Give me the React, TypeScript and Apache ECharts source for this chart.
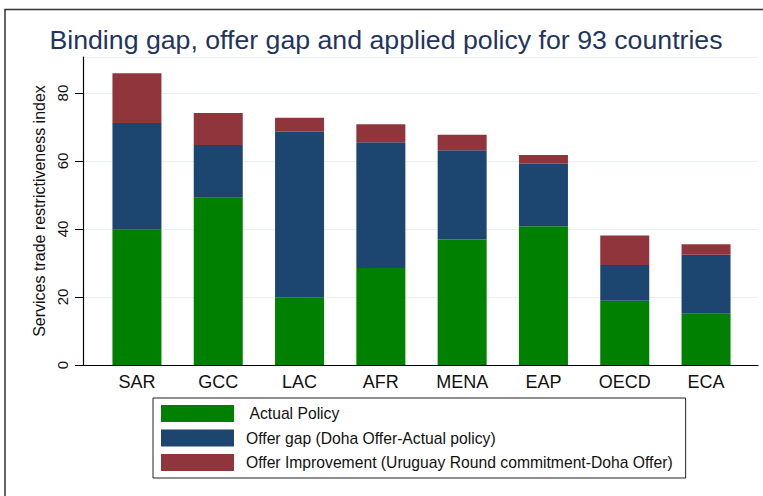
import React, { useEffect, useRef } from "react";
import * as echarts from "echarts";

const categories = ["SAR", "GCC", "LAC", "AFR", "MENA", "EAP", "OECD", "ECA"];
const actualPolicy = [39.8, 49.2, 19.9, 28.5, 36.9, 40.8, 18.9, 15.1];
const offerGap = [31.4, 15.5, 48.7, 37.0, 26.3, 18.4, 10.5, 17.3];
const offerImprovement = [14.6, 9.4, 4.1, 5.3, 4.5, 2.6, 8.7, 3.1];
const yTicks = [0, 20, 40, 60, 80];

const FONT = "'Liberation Sans', Arial, Helvetica, sans-serif";

export default function App() {
  const ref = useRef<HTMLDivElement>(null);
  useEffect(() => {
    if (!ref.current) return;
    const chart = echarts.init(ref.current, null, { renderer: "svg" });
    const yMax = 90.6;
    chart.setOption({
      animation: false,
      backgroundColor: "#ffffff",
      textStyle: { fontFamily: FONT },
      title: {
        text: "Binding gap, offer gap and applied policy for 93 countries",
        left: 386,
        textAlign: "center",
        top: 26,
        padding: 0,
        textStyle: { fontFamily: FONT, fontSize: 26.7, fontWeight: "normal", color: "#1f3560" },
      },
      graphic: [
        {
          type: "rect",
          shape: { x: 5, y: 9.5, width: 800, height: 520 },
          style: { fill: "none", stroke: "#333333", lineWidth: 1.5 },
          silent: true,
        },
      ],
      legend: {
        orient: "vertical",
        left: 153,
        top: 398,
        itemWidth: 73,
        itemHeight: 17,
        itemGap: 7.5,
        padding: [7, 13, 7, 8],
        borderColor: "#222222",
        borderWidth: 1,
        backgroundColor: "#ffffff",
        icon: "rect",
        selectedMode: false,
        formatter: (name: string) => (name === "Actual Policy" ? " " + name : name),
        textStyle: { fontFamily: FONT, fontSize: 15.7, color: "#111111", padding: [0, 0, 0, 7] },
        data: ["Actual Policy", "Offer gap (Doha Offer-Actual policy)", "Offer Improvement (Uruguay Round commitment-Doha Offer)"],
      },
      grid: [
        { left: 83, right: 5, top: 57, bottom: 131 },
        { left: 96.3, width: 650.4, top: 57, bottom: 131 },
      ],
      xAxis: [
        {
          gridIndex: 0,
          type: "value",
          min: 0,
          max: 1,
          axisLine: { show: true, lineStyle: { color: "#000000", width: 1.2 } },
          axisTick: { show: false },
          axisLabel: { show: false },
          splitLine: { show: false },
        },
        {
          gridIndex: 1,
          type: "category",
          data: categories,
          axisLine: { show: false },
          axisTick: { show: false },
          axisLabel: { fontFamily: FONT, fontSize: 18, color: "#111111", margin: 8 },
        },
      ],
      yAxis: [
        {
          gridIndex: 0,
          type: "value",
          min: 0,
          max: yMax,
          interval: 20,
          name: "Services trade restrictiveness index",
          nameLocation: "middle",
          nameGap: 35,
          nameTextStyle: { fontFamily: FONT, fontSize: 16, color: "#111111" },
          axisLine: { show: true, lineStyle: { color: "#000000", width: 1.2 } },
          axisTick: { show: true, length: 8, lineStyle: { color: "#000000" } },
          axisLabel: {
            rotate: 90,
            fontFamily: FONT,
            fontSize: 15,
            color: "#111111",
            margin: 13,
            showMaxLabel: false,
            formatter: (v: number) => (yTicks.includes(v) ? String(v) : ""),
          },
          splitLine: { show: true, lineStyle: { color: "#e8f0f0", width: 1.2 } },
        },
        {
          gridIndex: 1,
          type: "value",
          min: 0,
          max: yMax,
          show: false,
          splitLine: { show: false },
        },
      ],
      series: [
        {
          name: "Actual Policy",
          type: "bar",
          stack: "total",
          xAxisIndex: 1,
          yAxisIndex: 1,
          barWidth: 49,
          itemStyle: { color: "#008000" },
          data: actualPolicy,
        },
        {
          name: "Offer gap (Doha Offer-Actual policy)",
          type: "bar",
          stack: "total",
          xAxisIndex: 1,
          yAxisIndex: 1,
          barWidth: 49,
          itemStyle: { color: "#1c4670" },
          data: offerGap,
        },
        {
          name: "Offer Improvement (Uruguay Round commitment-Doha Offer)",
          type: "bar",
          stack: "total",
          xAxisIndex: 1,
          yAxisIndex: 1,
          barWidth: 49,
          itemStyle: { color: "#90353c" },
          data: offerImprovement,
        },
      ],
    });
    return () => chart.dispose();
  }, []);
  return (
    <div
      ref={ref}
      style={{ position: "fixed", left: 0, top: 0, width: 763, height: 496 }}
    />
  );
}
